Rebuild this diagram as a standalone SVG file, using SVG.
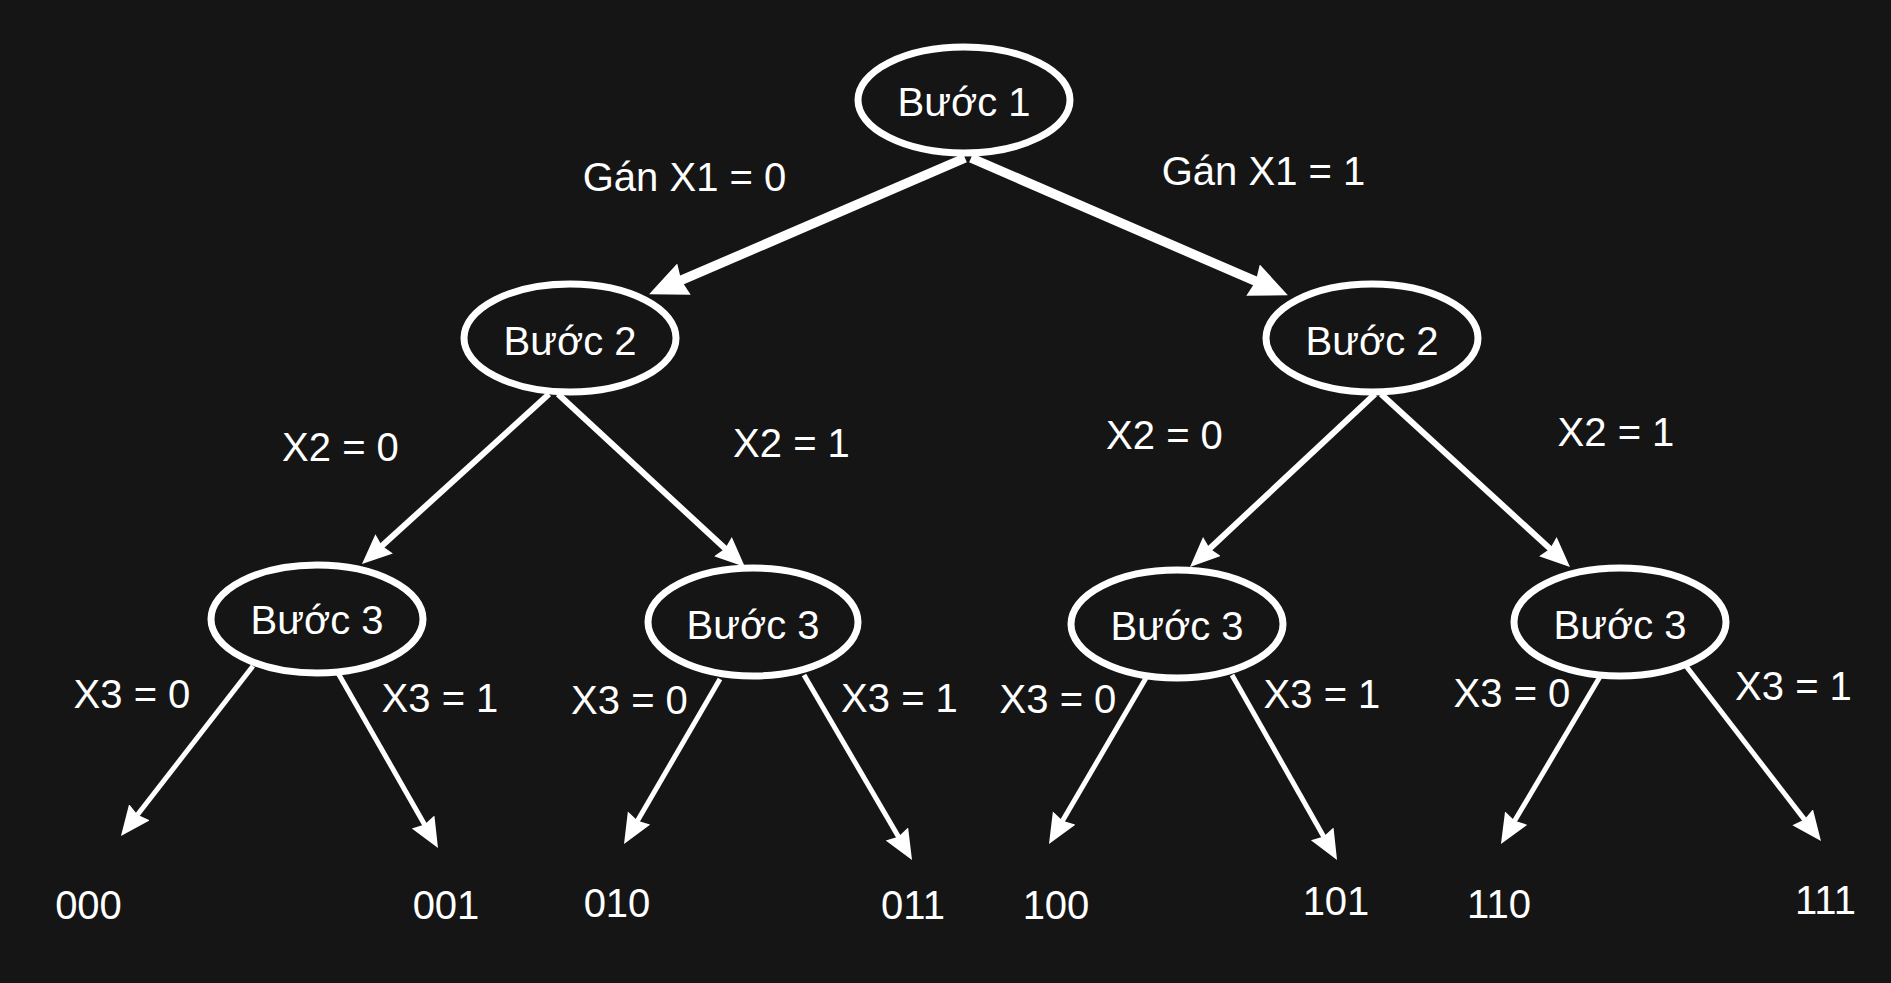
<svg xmlns="http://www.w3.org/2000/svg" width="1891" height="983" viewBox="0 0 1891 983">
<style>
.bg{fill:#151515}
.node{fill:none;stroke:#ffffff;stroke-width:7}
.t{font-family:"Liberation Sans",Arial,sans-serif;font-size:40px;fill:#ffffff;text-anchor:middle}
.e1{stroke:#ffffff;stroke-width:9.5;fill:none}
.e2{stroke:#ffffff;stroke-width:6;fill:none}
.e3{stroke:#ffffff;stroke-width:5;fill:none}
</style>
<defs>
<marker id="ahBig" markerUnits="userSpaceOnUse" markerWidth="40" markerHeight="36" refX="4" refY="17" orient="auto">
<path d="M0,0 L38,17 L0,34 L3,17 z" fill="#ffffff"/>
</marker>
<marker id="ah" markerUnits="userSpaceOnUse" markerWidth="32" markerHeight="28" refX="4" refY="13" orient="auto">
<path d="M0,0 L30,13 L0,26 L3,13 z" fill="#ffffff"/>
</marker>
</defs>
<rect class="bg" x="0" y="0" width="1891" height="983"/>
<g id="connectors">
<line class="e1" x1="965" y1="158" x2="680.3" y2="280.7" marker-end="url(#ahBig)"/>
<line class="e1" x1="971" y1="158" x2="1256.7" y2="281.7" marker-end="url(#ahBig)"/>
<line class="e2" x1="549" y1="394" x2="381.2" y2="546.5" marker-end="url(#ah)"/>
<line class="e2" x1="558" y1="394" x2="725.9" y2="549.3" marker-end="url(#ah)"/>
<line class="e2" x1="1375" y1="394" x2="1209" y2="549.2" marker-end="url(#ah)"/>
<line class="e2" x1="1381" y1="394" x2="1550.8" y2="549.4" marker-end="url(#ah)"/>
<line class="e3" x1="253" y1="666" x2="136.9" y2="815.5" marker-end="url(#ah)"/>
<line class="e3" x1="338" y1="673" x2="425.1" y2="825.4" marker-end="url(#ah)"/>
<line class="e3" x1="720" y1="679" x2="637.1" y2="821.5" marker-end="url(#ah)"/>
<line class="e3" x1="804" y1="675" x2="898.9" y2="837.5" marker-end="url(#ah)"/>
<line class="e3" x1="1146" y1="678" x2="1062.1" y2="821.6" marker-end="url(#ah)"/>
<line class="e3" x1="1232" y1="675" x2="1324.2" y2="837.4" marker-end="url(#ah)"/>
<line class="e3" x1="1601" y1="675" x2="1514.2" y2="821.6" marker-end="url(#ah)"/>
<line class="e3" x1="1686" y1="666" x2="1805.1" y2="820.4" marker-end="url(#ah)"/>
</g>
<g id="edge-labels">
<text class="t" x="684.5" y="191">Gán X1 = 0</text>
<text class="t" x="1263.5" y="185">Gán X1 = 1</text>
<text class="t" x="340.5" y="461">X2 = 0</text>
<text class="t" x="791.5" y="457">X2 = 1</text>
<text class="t" x="1164.5" y="449">X2 = 0</text>
<text class="t" x="1616" y="446">X2 = 1</text>
<text class="t" x="132" y="708">X3 = 0</text>
<text class="t" x="440" y="712">X3 = 1</text>
<text class="t" x="629.5" y="714">X3 = 0</text>
<text class="t" x="899.5" y="712">X3 = 1</text>
<text class="t" x="1058" y="713">X3 = 0</text>
<text class="t" x="1322" y="708">X3 = 1</text>
<text class="t" x="1512" y="707">X3 = 0</text>
<text class="t" x="1793.5" y="700">X3 = 1</text>
</g>
<g id="node-b1">
<ellipse class="node" cx="964" cy="100" rx="106" ry="53"/>
<text class="t" x="964" y="116">Bước 1</text>
</g>
<g id="node-b2-left">
<ellipse class="node" cx="570" cy="338" rx="106" ry="54"/>
<text class="t" x="570" y="355">Bước 2</text>
</g>
<g id="node-b2-right">
<ellipse class="node" cx="1372" cy="338" rx="106" ry="54"/>
<text class="t" x="1372" y="355">Bước 2</text>
</g>
<g id="node-b3-1">
<ellipse class="node" cx="317" cy="619" rx="106" ry="54"/>
<text class="t" x="317" y="634">Bước 3</text>
</g>
<g id="node-b3-2">
<ellipse class="node" cx="753" cy="622" rx="105" ry="54"/>
<text class="t" x="753" y="639">Bước 3</text>
</g>
<g id="node-b3-3">
<ellipse class="node" cx="1177" cy="624" rx="106" ry="54"/>
<text class="t" x="1177" y="640">Bước 3</text>
</g>
<g id="node-b3-4">
<ellipse class="node" cx="1620" cy="622" rx="106" ry="54"/>
<text class="t" x="1620" y="639">Bước 3</text>
</g>
<g id="leaf-000"><text class="t" x="88.5" y="919">000</text></g>
<g id="leaf-001"><text class="t" x="446" y="919">001</text></g>
<g id="leaf-010"><text class="t" x="617" y="917">010</text></g>
<g id="leaf-011"><text class="t" x="913" y="919">011</text></g>
<g id="leaf-100"><text class="t" x="1056" y="919">100</text></g>
<g id="leaf-101"><text class="t" x="1336" y="915">101</text></g>
<g id="leaf-110"><text class="t" x="1499" y="918">110</text></g>
<g id="leaf-111"><text class="t" x="1825.5" y="914">111</text></g>
</svg>
